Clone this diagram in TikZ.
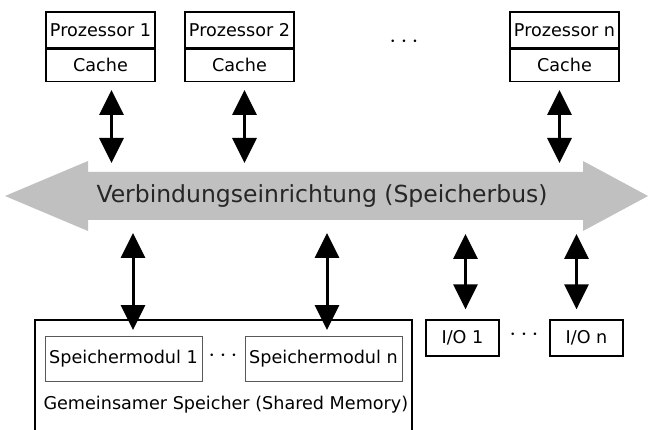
\documentclass[tikz,border=0pt]{standalone}
\usepackage{fontspec}
\setmainfont{DejaVu Sans}
\usetikzlibrary{arrows.meta,positioning}
\definecolor{busgray}{RGB}{192,192,192}
\tikzset{
  box/.style={draw,line width=1.3pt,minimum width=109pt,inner sep=1pt,font=\fontsize{17.6}{19}\selectfont},
  modbox/.style={draw=gray!70!black,line width=1pt,minimum width=157pt,minimum height=45pt,inner sep=1pt,font=\fontsize{17.6}{19}\selectfont},
  iobox/.style={draw,line width=1.3pt,minimum width=73pt,minimum height=36pt,inner sep=1pt,font=\fontsize{17.6}{19}\selectfont},
  dbl/.style={line width=3pt,{Triangle[width=24pt,length=25pt]}-{Triangle[width=24pt,length=25pt]}},
  dots/.style={font=\fontsize{26}{28}\selectfont}
}
\begin{document}
\begin{tikzpicture}[x=1pt,y=-1pt]
  \useasboundingbox (0,0) rectangle (653,430);
  % Prozessoren
  \node[box,minimum height=36pt](p1)at(100.5,30){Prozessor 1};
  \node[box,minimum height=32pt,below=0pt of p1](c1){Cache};
  \node[box,minimum height=36pt](p2)at(239.5,30){Prozessor 2};
  \node[box,minimum height=32pt,below=0pt of p2](c2){Cache};
  \node[box,minimum height=36pt](pn)at(564.5,30){Prozessor n};
  \node[box,minimum height=32pt,below=0pt of pn](cn){Cache};
  \node[dots](pdots)at(404,42){$\cdots$};
  % Speicherbus
  \fill[busgray](5,196)--(88,161)--(88,172)--(583,172)--(583,161)--(648,196)
    --(583,231)--(583,220)--(88,220)--(88,231)--cycle;
  \node[font=\fontsize{23.5}{25}\selectfont,text=black!85](bus)at(322,196){Verbindungseinrichtung (Speicherbus)};
  \coordinate(bt)at(0,163);
  \coordinate(bb)at(0,234);
  % Gemeinsamer Speicher
  \draw[line width=1.3pt](35,432)--(35,320)--(412,320)--(412,432);
  \node[modbox](m1)at(123.5,358.5){Speichermodul 1};
  \node[modbox](mn)at(323.5,358.5){Speichermodul n};
  \node[dots](mdots)at(223,356){$\cdots$};
  \node[font=\fontsize{17.6}{19}\selectfont,anchor=west](mem)at(40,405){Gemeinsamer Speicher (Shared Memory)};
  % I/O
  \node[iobox](io1)at(462.5,338){I/O 1};
  \node[iobox](ion)at(586.5,338){I/O n};
  \node[dots](iodots)at(524,335){$\cdots$};
  % Verbindungen
  \draw[dbl]([xshift=11pt,yshift=-8pt]c1.south)--([xshift=11pt]c1.south|-bt);
  \draw[dbl]([xshift=5pt,yshift=-8pt]c2.south)--([xshift=5pt]c2.south|-bt);
  \draw[dbl]([xshift=-5pt,yshift=-8pt]cn.south)--([xshift=-5pt]cn.south|-bt);
  \draw[dbl](133,233)--(133,330);
  \draw[dbl](327,233)--(327,330);
  \draw[dbl]([xshift=3pt]io1.north|-bb)--([xshift=3pt,yshift=10pt]io1.north);
  \draw[dbl]([xshift=-10pt]ion.north|-bb)--([xshift=-10pt,yshift=10pt]ion.north);
\end{tikzpicture}
\end{document}
